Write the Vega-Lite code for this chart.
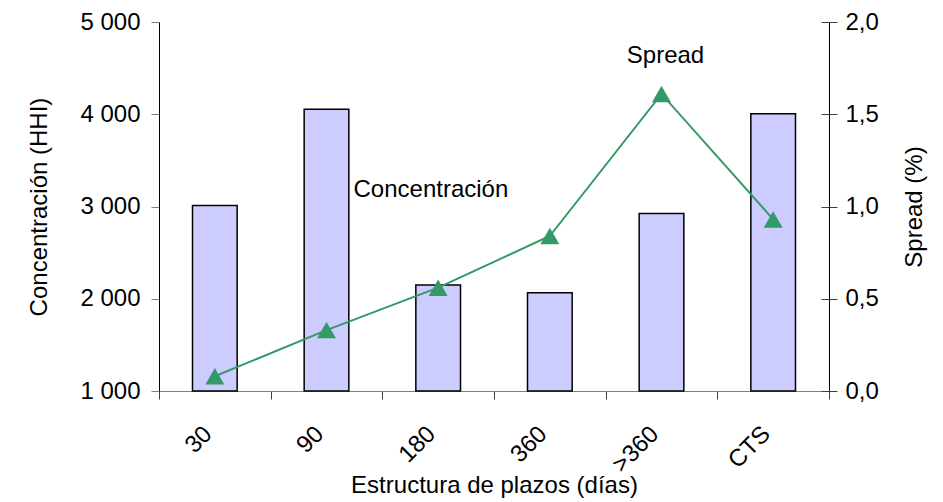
{
  "$schema": "https://vega.github.io/schema/vega-lite/v6.json",
  "width": 670,
  "height": 369,
  "autosize": {"type": "none"},
  "padding": {"left": 159, "top": 22, "right": 114, "bottom": 111},
  "config": {
    "locale": {"number": {"decimal": ",", "thousands": " ", "grouping": [3], "currency": ["", ""]}},
    "font": "Liberation Sans",
    "view": {"stroke": null},
    "axis": {
      "grid": false,
      "labelFont": "Liberation Sans",
      "labelFontSize": 24,
      "labelColor": "#000000",
      "titleFont": "Liberation Sans",
      "titleFontSize": 24,
      "titleFontWeight": "normal",
      "titleColor": "#000000",
      "domainColor": "#000000",
      "tickColor": "#404040",
      "tickSize": 8
    }
  },
  "data": {
    "values": [
      {"plazo": "30", "hhi": 3010, "spread": 0.08},
      {"plazo": "90", "hhi": 4055, "spread": 0.33},
      {"plazo": "180", "hhi": 2150, "spread": 0.56},
      {"plazo": "360", "hhi": 2065, "spread": 0.84},
      {"plazo": ">360", "hhi": 2925, "spread": 1.61},
      {"plazo": "CTS", "hhi": 4005, "spread": 0.93}
    ]
  },
  "encoding": {
    "x": {
      "field": "plazo",
      "type": "nominal",
      "sort": null,
      "scale": {"domain": ["30", "90", "180", "360", ">360", "CTS"], "paddingInner": 0, "paddingOuter": 0},
      "axis": {
        "title": "Estructura de plazos (días)",
        "tickBand": "extent",
        "domainColor": "#808080",
        "labelAngle": -45,
        "labelAlign": "right",
        "labelBaseline": "middle",
        "labelPadding": 31,
        "labelOffset": -7,
        "titlePadding": -3
      }
    }
  },
  "layer": [
    {
      "mark": {"type": "bar", "width": {"band": 0.4}, "fill": "#CCCCFF", "stroke": "#000000", "strokeWidth": 1.5},
      "encoding": {
        "y": {
          "field": "hhi",
          "type": "quantitative",
          "scale": {"domain": [1000, 5000], "zero": false, "nice": false},
          "axis": {
            "title": "Concentración (HHI)",
            "values": [1000, 2000, 3000, 4000, 5000],
            "format": ",.0f",
            "tickColor": "#808080",
            "labelPadding": 11,
            "titlePadding": 28
          }
        },
        "y2": {"datum": 1000}
      }
    },
    {
      "layer": [
        {
          "mark": {"type": "line", "color": "#339966", "strokeWidth": 2},
          "encoding": {
            "y": {
              "field": "spread",
              "type": "quantitative",
              "scale": {"domain": [0, 2], "nice": false},
              "axis": {
                "orient": "right",
                "title": "Spread (%)",
                "values": [0, 0.5, 1, 1.5, 2],
                "format": ".1f",
                "labelPadding": 8,
                "titleAngle": 270,
                "titleBaseline": "top",
                "titlePadding": 24
              }
            }
          }
        },
        {
          "mark": {"type": "point", "shape": "triangle-up", "filled": true, "size": 360, "color": "#339966", "opacity": 1},
          "encoding": {
            "y": {"field": "spread", "type": "quantitative"}
          }
        }
      ]
    },
    {
      "layer": [
        {
          "transform": [{"filter": "datum.plazo === '>360'"}],
          "mark": {"type": "text", "text": "Spread", "align": "center", "baseline": "alphabetic", "dx": 4, "fontSize": 24, "fontWeight": "normal", "font": "Liberation Sans", "fill": "#000000"},
          "encoding": {
            "y": {
              "datum": 1.778,
              "type": "quantitative",
              "scale": {"domain": [0, 2], "nice": false},
              "axis": {
                "orient": "right",
                "title": null,
                "values": [0, 0.5, 1, 1.5, 2],
                "labels": false,
                "domain": false,
                "tickSize": -8
              }
            }
          }
        },
        {
          "transform": [{"filter": "datum.plazo === '90'"}],
          "mark": {"type": "text", "text": "Concentración", "align": "left", "baseline": "alphabetic", "dx": 27, "fontSize": 24, "fontWeight": "normal", "font": "Liberation Sans", "fill": "#000000"},
          "encoding": {
            "y": {"datum": 1.0515, "type": "quantitative"}
          }
        }
      ]
    }
  ],
  "resolve": {"scale": {"y": "independent"}}
}
